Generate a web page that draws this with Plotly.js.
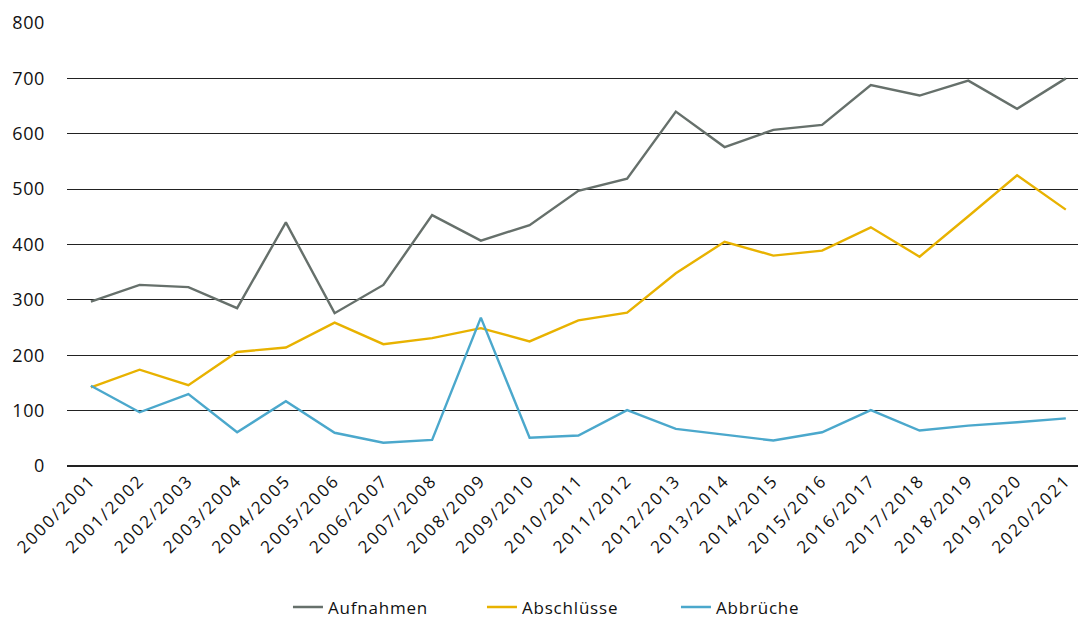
<!DOCTYPE html>
<html>
<head>
<meta charset="utf-8">
<script src="https://cdn.plot.ly/plotly-3.0.1.min.js"></script>
<style>
html,body{margin:0;padding:0;background:#fff}
#chart{width:1078px;height:620px}
#chart .xtick text{letter-spacing:2.1px}
#chart .ytick text{letter-spacing:0.6px}
#chart .legendtext{letter-spacing:0.8px}
</style>
</head>
<body>
<div id="chart"></div>
<script>
const categories = ["2000/2001","2001/2002","2002/2003","2003/2004","2004/2005","2005/2006","2006/2007","2007/2008","2008/2009","2009/2010","2010/2011","2011/2012","2012/2013","2013/2014","2014/2015","2015/2016","2016/2017","2017/2018","2018/2019","2019/2020","2020/2021"];
const aufnahmen = [297,327,323,285,440,276,327,453,407,435,497,519,640,576,607,616,688,669,696,645,700];
const abschluesse = [142,174,146,206,214,259,220,231,249,225,263,277,348,405,380,389,431,378,451,525,463];
const abbrueche = [145,97,130,61,117,60,42,47,268,51,55,101,67,57,46,61,101,64,73,79,86];
const yTicks = [0,100,200,300,400,500,600,700,800];

const mk = (name, y, color) => ({
  type: 'scatter', mode: 'lines', name: name, x: categories, y: y,
  line: {color: color, width: 2.4}
});

const data = [
  mk('Aufnahmen', aufnahmen, '#66706b'),
  mk('Abschlüsse', abschluesse, '#e8b200'),
  mk('Abbrüche', abbrueche, '#4ba8cc')
];

const layout = {
  width: 1078, height: 620,
  margin: {l: 67, r: 0, t: 23, b: 154, autoexpand: false},
  paper_bgcolor: '#fff', plot_bgcolor: '#fff',
  font: {family: 'Open Sans, sans-serif', size: 17, color: '#111'},
  showlegend: true,
  legend: {orientation: 'h', x: 0.5064, xanchor: 'center', y: -0.36, yanchor: 'bottom',
           font: {size: 17, color: '#111'}, entrywidth: 149, entrywidthmode: 'pixels',
           tracegroupgap: 0},
  xaxis: {
    type: 'category', range: [-0.49, 20.25], tickangle: -45,
    showgrid: false, zeroline: false, showline: false, ticks: '',
    tickfont: {size: 17, color: '#111'}, fixedrange: true, automargin: false
  },
  yaxis: {
    range: [0, 800], tickvals: yTicks, ticktext: yTicks.map(String),
    showgrid: true, gridcolor: '#222', gridwidth: 1.2,
    zeroline: true, zerolinecolor: '#222', zerolinewidth: 1.2,
    showline: false, ticks: '', ticklabelstandoff: 21,
    tickfont: {size: 18, color: '#111'}, fixedrange: true, automargin: false
  }
};

Plotly.newPlot('chart', data, layout, {displayModeBar: false, staticPlot: true});
</script>
</body>
</html>
